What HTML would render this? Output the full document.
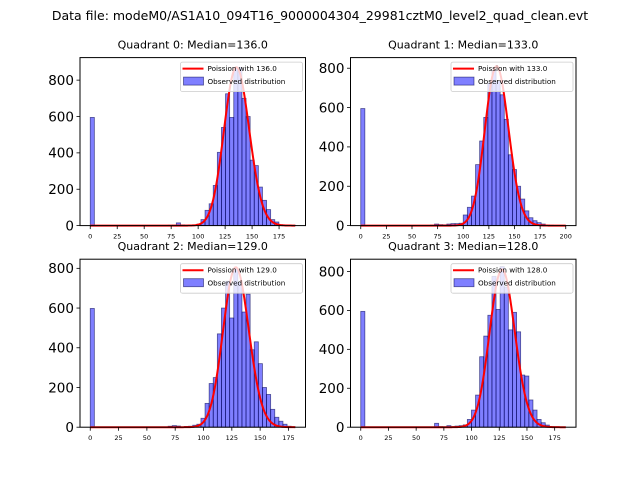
<!DOCTYPE html>
<html><head><meta charset="utf-8">
<style>
html,body{margin:0;padding:0;background:#fff;}
svg{display:block;font-family:"DejaVu Sans","Liberation Sans",sans-serif;}
</style></head>
<body>
<svg id="fig" width="640" height="480" viewBox="0 0 640 480">
<rect x="0" y="0" width="640" height="480" fill="#fff"/>
<text x="320" y="20" text-anchor="middle" font-size="12.5" fill="#000">Data file: modeM0/AS1A10_094T16_9000004304_29981cztM0_level2_quad_clean.evt</text>
</svg>
<script>
// ---- data ----
const quadrantNames = ["Quadrant 0","Quadrant 1","Quadrant 2","Quadrant 3"];
const medians = [136.0, 133.0, 129.0, 128.0];
const dataMax = [190, 200, 181, 185];
const binCount = 50;
const q0Counts = [595,0,0,0,0,0,0,0,0,0, 0,0,0,0,0,0,0,0,0,2, 3,15,4,3,3,4,8,33,84,120, 221,403,540,725,595,870,870,700,600,360, 330,212,139,88,33,20,5,4,3,2];
const q1Counts = [595,0,0,0,0,0,0,0,0,0, 0,0,0,0,0,0,0,3,8,5, 4,8,10,10,12,54,93,150,310,430, 550,725,790,735,665,540,360,285,200,135, 75,40,25,15,8,3,2,1,1,1];
const q2Counts = [598,0,0,0,0,0,0,0,0,0, 0,0,0,0,0,0,0,0,0,5, 8,6,0,4,5,10,15,45,120,220, 250,470,600,735,550,800,730,580,670,390, 430,320,200,165,90,50,30,15,5,2];
const q3Counts = [595,0,0,0,0,0,0,0,0,0, 0,0,0,0,0,0,0,0,20,3, 2,8,3,6,8,12,40,88,165,362, 468,575,775,605,825,720,500,590,490,268, 263,140,88,40,23,11,3,1,1,1];
const allCounts = [q0Counts, q1Counts, q2Counts, q3Counts];
const curvePeaks = [870, 810, 805, 810];
const yMaxes = [924, 854, 846, 863];
const yTicks = [0,200,400,600,800];
const xTicksShort = [0,25,50,75,100,125,150,175];
const xTicksLong = [0,25,50,75,100,125,150,175,200];

// ---- layout ----
const NS = "http://www.w3.org/2000/svg";
const svg = document.getElementById("fig");
const boxes = [[80,57.6],[350.5,57.6],[80,259.2],[350.5,259.2]];
const W = 225.5, H = 168;

function mk(tag, attrs, parent){
  const e = document.createElementNS(NS, tag);
  for (const k in attrs) e.setAttribute(k, attrs[k]);
  parent.appendChild(e);
  return e;
}
function logFact(n){ let s=0; for(let i=2;i<=n;i++) s+=Math.log(i); return s; }
function pmf(k, lam){ return Math.exp(k*Math.log(lam) - lam - logFact(k)); }

for (let q=0;q<4;q++){
  const [bx,by] = boxes[q];
  const M = dataMax[q];
  const x0 = -0.05*M, x1 = 1.05*M;
  const xs = v => bx + (v - x0)/(x1 - x0)*W;
  const ys = v => by + H - v/yMaxes[q]*H;
  const g = mk("g", {}, svg);
  
  

  const title = mk("text", {x: bx+W/2, y: by-9, "text-anchor":"middle", "font-size":"11", fill:"#000"}, g);
  title.textContent = quadrantNames[q] + ": Median=" + medians[q].toFixed(1);
  
  

  // bars
  const bw = M / binCount;
  const counts = allCounts[q];
  for (let i=0;i<counts.length;i++){
    if (counts[i] <= 0) continue;
    const r = mk("rect", {x: xs(i*bw), y: ys(counts[i]), width: xs((i+1)*bw)-xs(i*bw), height: ys(0)-ys(counts[i]),
      fill:"rgba(0,0,255,0.5)", stroke:"rgba(0,0,80,0.6)", "stroke-width":"0.8"}, g);
    
    
  }

  // poisson curve
  const lam = medians[q];
  const scale = curvePeaks[q] / pmf(Math.round(lam), lam);
  let d = "";
  for (let k=0;k<=Math.round(M);k++){
    d += (k===0?"M":"L") + xs(k).toFixed(2) + "," + ys(pmf(k,lam)*scale).toFixed(2);
  }
  const path = mk("path", {d: d, fill:"none", stroke:"#ff0000", "stroke-width":"2"}, g);
  
  

  // frame
  const fr = mk("rect", {x: bx, y: by, width: W, height: H, fill:"none", stroke:"#000", "stroke-width":"1"}, g);
  
  

  // y ticks
  for (const t of yTicks){
    const y = ys(t);
    const tl = mk("line", {x1: bx-3.5, x2: bx, y1: y, y2: y, stroke:"#000", "stroke-width":"0.8"}, g);
    
    
    const tx = mk("text", {x: bx-6, y: y+4.8, "text-anchor":"end", "font-size":"13.5", fill:"#000"}, g);
    tx.textContent = t;
    
    
  }
  // x ticks
  const xt = (q===1) ? xTicksLong : xTicksShort;
  for (const t of xt){
    const x = xs(t);
    const tl = mk("line", {x1: x, x2: x, y1: by+H, y2: by+H+3.5, stroke:"#000", "stroke-width":"0.8"}, g);
    
    
    const tx = mk("text", {x: x, y: by+H+13, "text-anchor":"middle", "font-size":"6.5", fill:"#000"}, g);
    tx.textContent = t;
    
    
  }

  // legend
  const lx = bx+W-125, ly = by+4.5;
  const lg = mk("g", {}, g);
  
  
  mk("rect", {x: lx, y: ly, width: 122, height: 29.5, rx: 2, fill:"rgba(255,255,255,0.8)", stroke:"#ccc", "stroke-width":"0.8"}, lg);
  const ll = mk("line", {x1: lx+2, x2: lx+23, y1: ly+6.5, y2: ly+6.5, stroke:"#ff0000", "stroke-width":"2"}, lg);
  
  
  const lt1 = mk("text", {x: lx+27, y: ly+9, "font-size":"7.2", fill:"#000"}, lg);
  lt1.textContent = "Poission with " + lam.toFixed(1);
  
  
  const lp = mk("rect", {x: lx+3, y: ly+15, width: 20, height: 8, fill:"rgba(0,0,255,0.5)", stroke:"rgba(0,0,80,0.6)", "stroke-width":"0.8"}, lg);
  
  
  const lt2 = mk("text", {x: lx+27, y: ly+22, "font-size":"7.2", fill:"#000"}, lg);
  lt2.textContent = "Observed distribution";
  
  
}
</script>
</body></html>
